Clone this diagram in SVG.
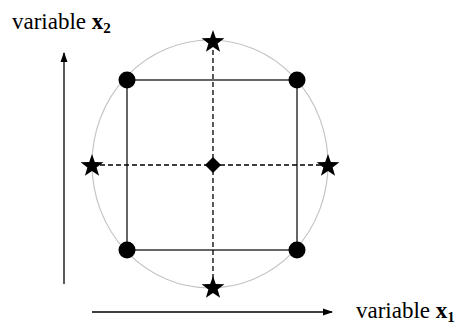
<svg xmlns="http://www.w3.org/2000/svg" width="459" height="327" viewBox="0 0 459 327">
<style>
text{font-family:"Liberation Serif","Times New Roman",serif;font-size:23px;fill:#000}
.ax{stroke:#000;stroke-width:1.3;fill:none}
.dash{stroke:#000;stroke-width:1.3;stroke-dasharray:5,3;fill:none}
.sq{stroke:#000;stroke-width:1.2;fill:none}
.pt{fill:#000}
</style>
<defs>
<marker id="ah" markerWidth="10" markerHeight="8" refX="9" refY="4" orient="auto" markerUnits="userSpaceOnUse">
<path d="M0,0.5 L10,4 L0,7.5 z" fill="#000"/>
</marker>
<path id="star" d="M0,-12 L2.8,-3.9 L11.4,-3.7 L4.6,1.5 L7.1,9.8 L0,4.9 L-7.1,9.8 L-4.6,1.5 L-11.4,-3.7 L-2.8,-3.9 z"/>
</defs>
<g id="circle"><ellipse cx="210" cy="164" rx="118" ry="124" fill="none" stroke="#c4c4c4" stroke-width="1.2"/></g>
<g id="connectors">
<line class="ax" x1="64" y1="284" x2="64" y2="53" marker-end="url(#ah)"/>
<line class="ax" x1="92" y1="312" x2="332" y2="312" marker-end="url(#ah)"/>
<line class="dash" x1="213" y1="42" x2="213" y2="287"/>
<line class="dash" x1="92" y1="165" x2="328" y2="165"/>
<rect class="sq" x="127" y="80" width="170" height="170"/>
</g>
<g id="corner-tl"><circle class="pt" cx="127" cy="80" r="8.5"/></g>
<g id="corner-tr"><circle class="pt" cx="297" cy="80" r="8.5"/></g>
<g id="corner-bl"><circle class="pt" cx="127" cy="250" r="8.5"/></g>
<g id="corner-br"><circle class="pt" cx="297" cy="250" r="8.5"/></g>
<g id="star-top"><use href="#star" x="213" y="42"/></g>
<g id="star-bottom"><use href="#star" x="213" y="288"/></g>
<g id="star-left"><use href="#star" x="92" y="166"/></g>
<g id="star-right"><use href="#star" x="328" y="166"/></g>
<g id="center"><path d="M213,157 L221,165 L213,173 L205,165 z" fill="#000"/></g>
<g id="label-x2"><text x="12" y="29">variable <tspan font-weight="bold">x</tspan><tspan font-weight="bold" font-size="15" dy="4">2</tspan></text></g>
<g id="label-x1"><text x="356" y="318">variable <tspan font-weight="bold">x</tspan><tspan font-weight="bold" font-size="15" dy="4">1</tspan></text></g>
</svg>
